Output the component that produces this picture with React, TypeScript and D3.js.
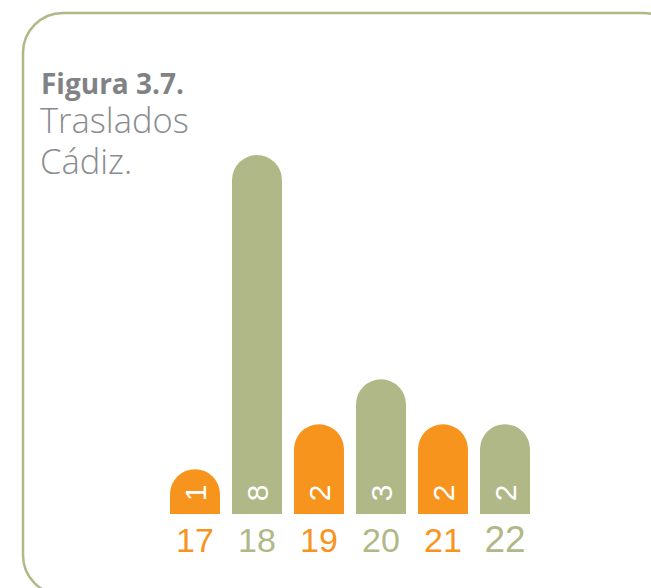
import React, { useEffect, useRef } from "react";
import * as d3 from "d3";

const years = ["17", "18", "19", "20", "21", "22"];
const traslados = [1, 8, 2, 3, 2, 2];
const titleLines = ["Traslados", "Cádiz."];

const ORANGE = "#f7941d";
const GREEN = "#afb886";
const GREY = "#808285";

export default function App() {
  const svgRef = useRef<SVGSVGElement>(null);

  useEffect(() => {
    if (!svgRef.current) return;
    const svg = d3.select(svgRef.current);
    svg.selectAll("*").remove();

    // Frame
    svg
      .append("rect")
      .attr("x", 23)
      .attr("y", 13)
      .attr("width", 660)
      .attr("height", 582)
      .attr("rx", 40)
      .attr("fill", "none")
      .attr("stroke", GREEN)
      .attr("stroke-width", 2.5);

    // Title
    svg
      .append("text")
      .attr("x", 41)
      .attr("y", 94)
      .attr("font-family", "'Open Sans', sans-serif")
      .attr("font-weight", 700)
      .attr("font-size", 28)
      .attr("fill", GREY)
      .text("Figura 3.7.");

    titleLines.forEach((t, i) => {
      svg
        .append("text")
        .attr("x", 40)
        .attr("y", 133 + i * 41)
        .attr("font-family", "'Open Sans', sans-serif")
        .attr("font-weight", 300)
        .attr("font-size", 34.5)
        .attr("fill", "#8a8c8f")
        .text(t);
    });

    const x = d3
      .scaleBand<string>()
      .domain(years)
      .range([164, 536])
      .paddingInner(0.194)
      .paddingOuter(0.097);

    const y = d3.scaleLinear().domain([0, 8]).range([514, 155]);
    const color = (i: number) => (i % 2 === 0 ? ORANGE : GREEN);

    const bw = x.bandwidth();
    const r = bw / 2;

    // Bars with rounded tops
    years.forEach((yr, i) => {
      const x0 = x(yr)!;
      const top = y(traslados[i]);
      const bottom = y(0);
      const p = d3.path();
      p.moveTo(x0, bottom);
      p.lineTo(x0, top + r);
      p.arc(x0 + r, top + r, r, Math.PI, 0);
      p.lineTo(x0 + bw, bottom);
      p.closePath();
      svg.append("path").attr("d", p.toString()).attr("fill", color(i));

      const cx = x0 + bw / 2;
      svg
        .append("text")
        .attr("transform", `translate(${cx},${bottom - 21}) rotate(-90)`)
        .attr("text-anchor", "middle")
        .attr("dominant-baseline", "central")
        .attr("font-family", "'Liberation Sans', Arial, sans-serif")
        .attr("font-size", 30)
        .attr("fill", "#ffffff")
        .text(traslados[i]);

      svg
        .append("text")
        .attr("x", cx)
        .attr("y", 552)
        .attr("text-anchor", "middle")
        .attr("font-family", "'Liberation Sans', Arial, sans-serif")
        .attr("font-size", i === years.length - 1 ? 37 : 34)
        .attr("fill", color(i))
        .text(yr);
    });
  }, []);

  return (
    <div style={{ position: "absolute", left: 0, top: 0 }}>
      <svg ref={svgRef} width={651} height={588} style={{ display: "block" }} />
    </div>
  );
}
